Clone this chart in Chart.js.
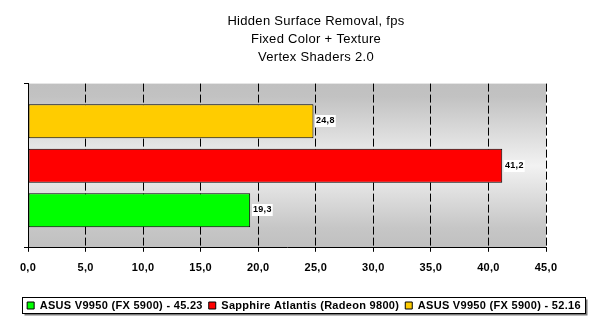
<!DOCTYPE html>
<html>
<head>
<meta charset="utf-8">
<script src="https://cdn.jsdelivr.net/npm/chart.js@4"></script>
<style>
  html, body { margin: 0; padding: 0; background: #fff; }
  #wrap { width: 600px; height: 332px; }
</style>
</head>
<body>
<div id="wrap"><canvas id="myChart" width="600" height="332"></canvas></div>
<script>
// chart data, top bar first
var categories = [''];
var seriesNames = ['ASUS V9950 (FX 5900) - 52.16', 'Sapphire Atlantis (Radeon 9800)', 'ASUS V9950 (FX 5900) - 45.23'];
var seriesValues = [24.8, 41.2, 19.3];
var seriesColors = ['#ffcc00', '#ff0000', '#00ff00'];
var titleLines = ['Hidden Surface Removal, fps', 'Fixed Color + Texture', 'Vertex Shaders 2.0'];
var xMin = 0;
var xMax = 45;
var xStep = 5;

var FONT = '"Liberation Sans", Arial, sans-serif';

function commaNum(v) {
    return Number(v).toFixed(1).replace('.', ',');
}

// slightly looser text like the original bitmap fonts
var textSpacing = {
    id: 'textSpacing',
    beforeUpdate: function (chart) {
        chart.ctx.letterSpacing = '0.3px';
    },
    afterLayout: function (chart) {
        // title sits a bit right of centre, legend a touch too
        chart.titleBlock.left += 16;
        chart.titleBlock.right += 16;
        chart.legend.left += 4;
        chart.legend.right += 4;
    }
};

// grey banded background behind the plot
var plotBackground = {
    id: 'plotBackground',
    beforeDraw: function (chart) {
        var a = chart.chartArea;
        var c = chart.ctx;
        var g = c.createLinearGradient(0, a.top, 0, a.bottom);
        g.addColorStop(0, '#c0c0c0');
        g.addColorStop(0.08, '#c2c2c2');
        g.addColorStop(0.5, '#f2f2f2');
        g.addColorStop(0.88, '#c6c6c6');
        g.addColorStop(1, '#c0c0c0');
        c.save();
        c.fillStyle = g;
        c.fillRect(a.left, a.top, a.right - a.left, a.bottom - a.top);
        c.restore();
    }
};

// framed legend with a little shadow
var legendFrame = {
    id: 'legendFrame',
    beforeDraw: function (chart) {
        var boxes = chart.legend.legendHitBoxes;
        if (!boxes || !boxes.length) return;
        var l = Infinity, r = -Infinity, t = Infinity, b = -Infinity;
        boxes.forEach(function (h) {
            l = Math.min(l, h.left);
            r = Math.max(r, h.left + h.width);
            t = Math.min(t, h.top);
            b = Math.max(b, h.top + h.height);
        });
        l = Math.round(l) - 4.5;
        r = Math.round(r) + 4.5;
        t = Math.round(t) - 2.5;
        b = Math.round(b) + 2.5;
        var c = chart.ctx;
        c.save();
        c.fillStyle = '#7a7a7a';
        c.fillRect(l + 2, t + 2, r - l, b - t);
        c.fillStyle = '#ffffff';
        c.fillRect(l, t, r - l, b - t);
        c.strokeStyle = '#000';
        c.lineWidth = 1;
        c.strokeRect(l, t, r - l, b - t);
        c.restore();
    }
};

// value labels at the end of each bar
var barLabels = {
    id: 'barLabels',
    afterDatasetsDraw: function (chart) {
        var c = chart.ctx;
        c.save();
        c.font = 'bold 9px ' + FONT;
        c.textBaseline = 'middle';
        chart.data.datasets.forEach(function (ds, i) {
            chart.getDatasetMeta(i).data.forEach(function (bar, j) {
                var txt = commaNum(ds.data[j]);
                var w = c.measureText(txt).width;
                var x = Math.round(bar.x) + 2;
                var y = Math.round(bar.y);
                c.fillStyle = '#fff';
                c.fillRect(x, y - 6, w + 2, 12);
                c.fillStyle = '#000';
                c.fillText(txt, x + 1, y);
            });
        });
        c.restore();
    }
};

var datasets = [];
for (let i = 0; i < seriesNames.length; i++) {
    datasets.push({
        label: seriesNames[i],
        data: [seriesValues[i]],
        yAxisID: 'y',
        backgroundColor: seriesColors[i],
        borderColor: '#000',
        borderWidth: 1,
        borderSkipped: false,
        categoryPercentage: 0.814,
        barPercentage: 0.764
    });
}

new Chart(document.getElementById('myChart'), {
    type: 'bar',
    data: { labels: categories, datasets: datasets },
    plugins: [textSpacing, plotBackground, legendFrame, barLabels],
    options: {
        indexAxis: 'y',
        responsive: false,
        animation: false,
        layout: { padding: { left: 0, right: 0, top: 0, bottom: 11 } },
        plugins: {
            tooltip: { enabled: false },
            title: {
                display: true,
                text: titleLines,
                color: '#000',
                font: { family: FONT, size: 13, weight: 'normal', lineHeight: 1.4 },
                padding: { top: 12, bottom: 17 }
            },
            legend: {
                position: 'bottom',
                reverse: true,
                labels: {
                    color: '#000',
                    boxWidth: 7,
                    boxHeight: 7,
                    padding: 6,
                    font: { family: FONT, size: 11, weight: 'bold' }
                }
            }
        },
        scales: {
            x: {
                min: xMin,
                max: xMax,
                afterFit: function (scale) { scale.height += 9; },
                ticks: {
                    stepSize: xStep,
                    color: '#000',
                    padding: 10,
                    font: { family: FONT, size: 11, weight: 'bold' },
                    callback: function (v) { return commaNum(v); }
                },
                grid: {
                    color: '#000',
                    lineWidth: 1,
                    tickLength: 4,
                    tickBorderDash: []
                },
                border: { color: '#000', width: 1, dash: [8, 3] }
            },
            y: {
                afterFit: function (scale) { scale.width = 28; },
                ticks: { display: false },
                grid: {
                    color: '#000',
                    drawOnChartArea: false,
                    tickLength: 4
                },
                border: { color: '#000', width: 1 }
            },
            yRight: {
                type: 'category',
                position: 'right',
                afterFit: function (scale) { scale.width = 54; },
                ticks: { display: false },
                grid: { display: false, drawOnChartArea: false },
                border: { display: false }
            }
        }
    }
});
</script>
</body>
</html>
